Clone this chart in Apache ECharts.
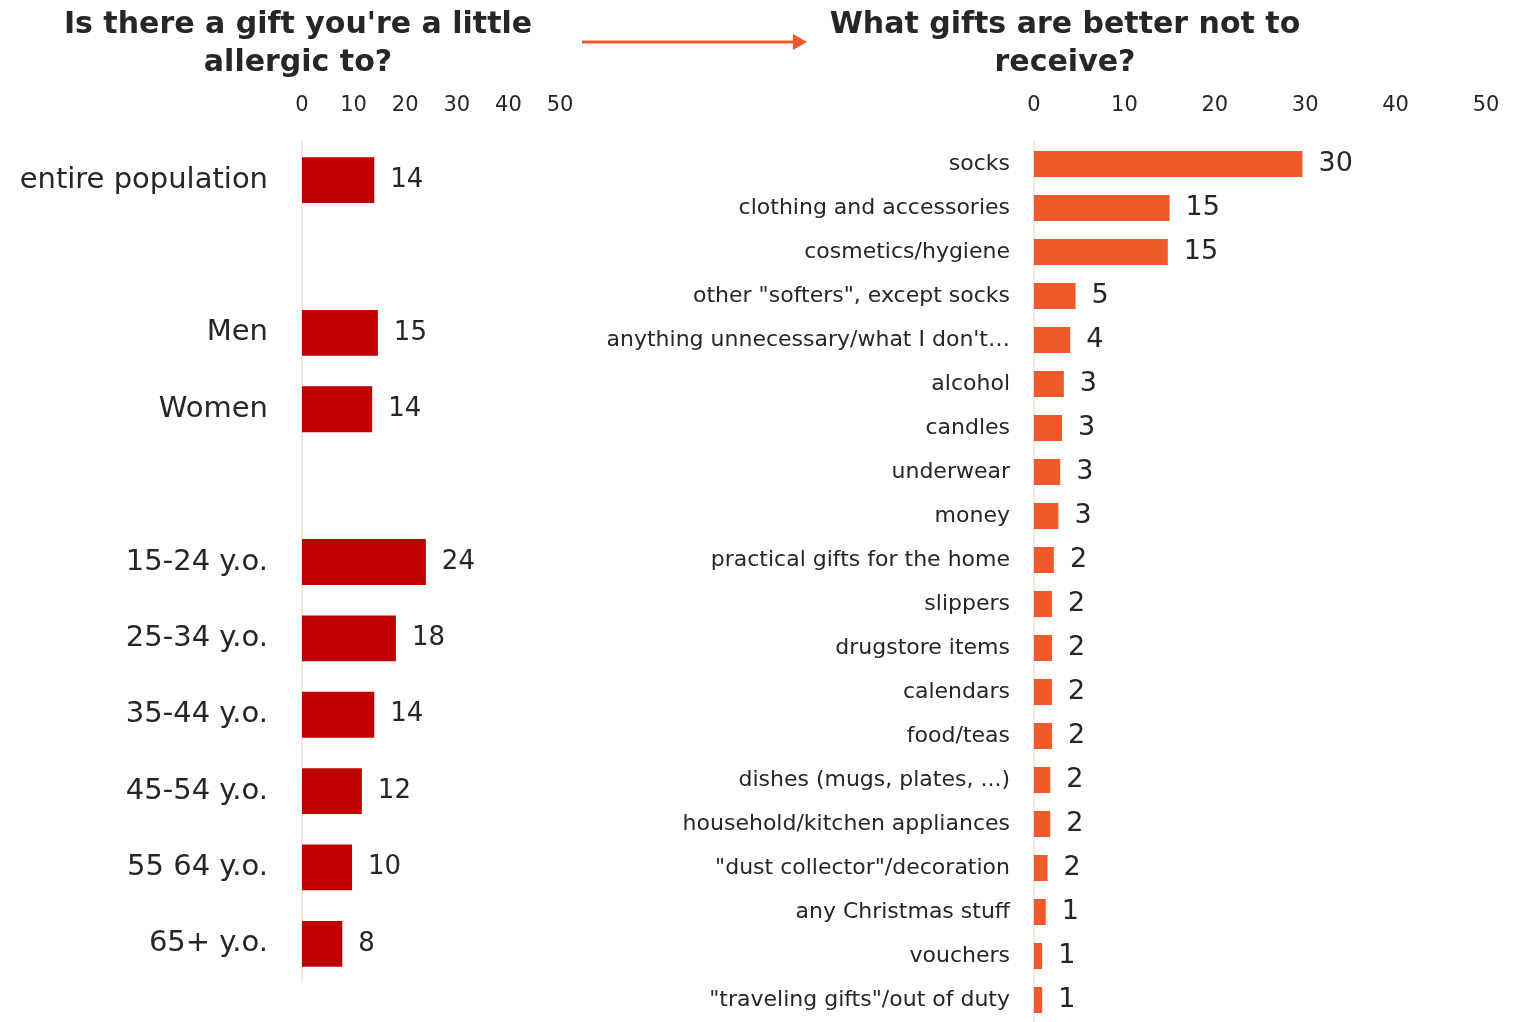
<!DOCTYPE html>
<html><head><meta charset="utf-8">
<script src="https://cdn.jsdelivr.net/npm/echarts@6/dist/echarts.min.js"></script>
<style>html,body{margin:0;padding:0;background:#fff}#c{width:1527px;height:1022px}</style>
</head><body><div id="c"></div>
<script>
const leftCategories = ['entire population', '', 'Men', 'Women', '', '15-24 y.o.', '25-34 y.o.', '35-44 y.o.', '45-54 y.o.', '55 64 y.o.', '65+ y.o.'];
const leftValues = [14, null, 14.7, 13.6, null, 24, 18.2, 14, 11.6, 9.7, 7.8];
const rightCategories = ['socks', 'clothing and accessories', 'cosmetics/hygiene', 'other "softers", except socks', "anything unnecessary/what I don't\u2026", 'alcohol', 'candles', 'underwear', 'money', 'practical gifts for the home', 'slippers', 'drugstore items', 'calendars', 'food/teas', 'dishes (mugs, plates, ...)', 'household/kitchen appliances', '"dust collector"/decoration', 'any Christmas stuff', 'vouchers', '"traveling gifts"/out of duty'];
const rightValues = [29.7, 15, 14.8, 4.6, 4, 3.3, 3.1, 2.9, 2.7, 2.2, 2, 2, 2, 2, 1.8, 1.8, 1.5, 1.3, 0.9, 0.9];
const axisTicks = [0, 10, 20, 30, 40, 50];

const FONT = '"DejaVu Sans", sans-serif';
const TXT = '#262626';
const chart = echarts.init(document.getElementById('c'));
function xAx(gi) {
  return {
    gridIndex: gi, type: 'value', position: 'top', min: axisTicks[0], max: axisTicks[axisTicks.length - 1], interval: 10,
    axisLine: {show: false}, axisTick: {show: false}, splitLine: {show: false},
    axisLabel: {color: TXT, fontSize: 21, fontFamily: FONT, margin: 26}
  };
}
chart.setOption({
  animation: false,
  title: [
    {text: "Is there a gift you're a little\nallergic to?", left: 298, top: 6, padding: 0, textAlign: 'center',
     textStyle: {fontFamily: FONT, fontWeight: 'bold', fontSize: 30, lineHeight: 38, color: TXT}},
    {text: 'What gifts are better not to\nreceive?', left: 1065, top: 6, padding: 0, textAlign: 'center',
     textStyle: {fontFamily: FONT, fontWeight: 'bold', fontSize: 30, lineHeight: 38, color: TXT}}
  ],
  graphic: [
    {type: 'line', shape: {x1: 582, y1: 42, x2: 795, y2: 42}, style: {stroke: '#F05A28', lineWidth: 3}},
    {type: 'polygon', shape: {points: [[793, 34], [807, 42], [793, 50]]}, style: {fill: '#F05A28'}}
  ],
  grid: [
    {left: 302, width: 258, top: 142, height: 840},
    {left: 1034, width: 452, top: 142, height: 888}
  ],
  xAxis: [xAx(0), xAx(1)],
  yAxis: [
    {gridIndex: 0, type: 'category', data: leftCategories, inverse: true,
     axisLine: {show: true, lineStyle: {color: '#FCE4DE', width: 2}}, axisTick: {show: false},
     axisLabel: {color: TXT, fontSize: 29, fontFamily: FONT, margin: 34}},
    {gridIndex: 1, type: 'category', data: rightCategories, inverse: true,
     axisLine: {show: true, lineStyle: {color: '#FCE4DE', width: 2}}, axisTick: {show: false},
     axisLabel: {color: TXT, fontSize: 22, fontFamily: FONT, margin: 24}}
  ],
  series: [
    {type: 'bar', xAxisIndex: 0, yAxisIndex: 0, data: leftValues, barCategoryGap: '40%',
     itemStyle: {color: '#C00000'},
     label: {show: true, position: 'right', distance: 16, color: TXT, fontSize: 26, fontFamily: FONT,
       formatter: p => p.value == null ? '' : Math.round(p.value)}},
    {type: 'bar', xAxisIndex: 1, yAxisIndex: 1, data: rightValues, barCategoryGap: '41%',
     itemStyle: {color: '#F05A2B'},
     label: {show: true, position: 'right', distance: 16, color: TXT, fontSize: 27, fontFamily: FONT,
       formatter: p => Math.round(p.value)}}
  ]
});
</script></body></html>
